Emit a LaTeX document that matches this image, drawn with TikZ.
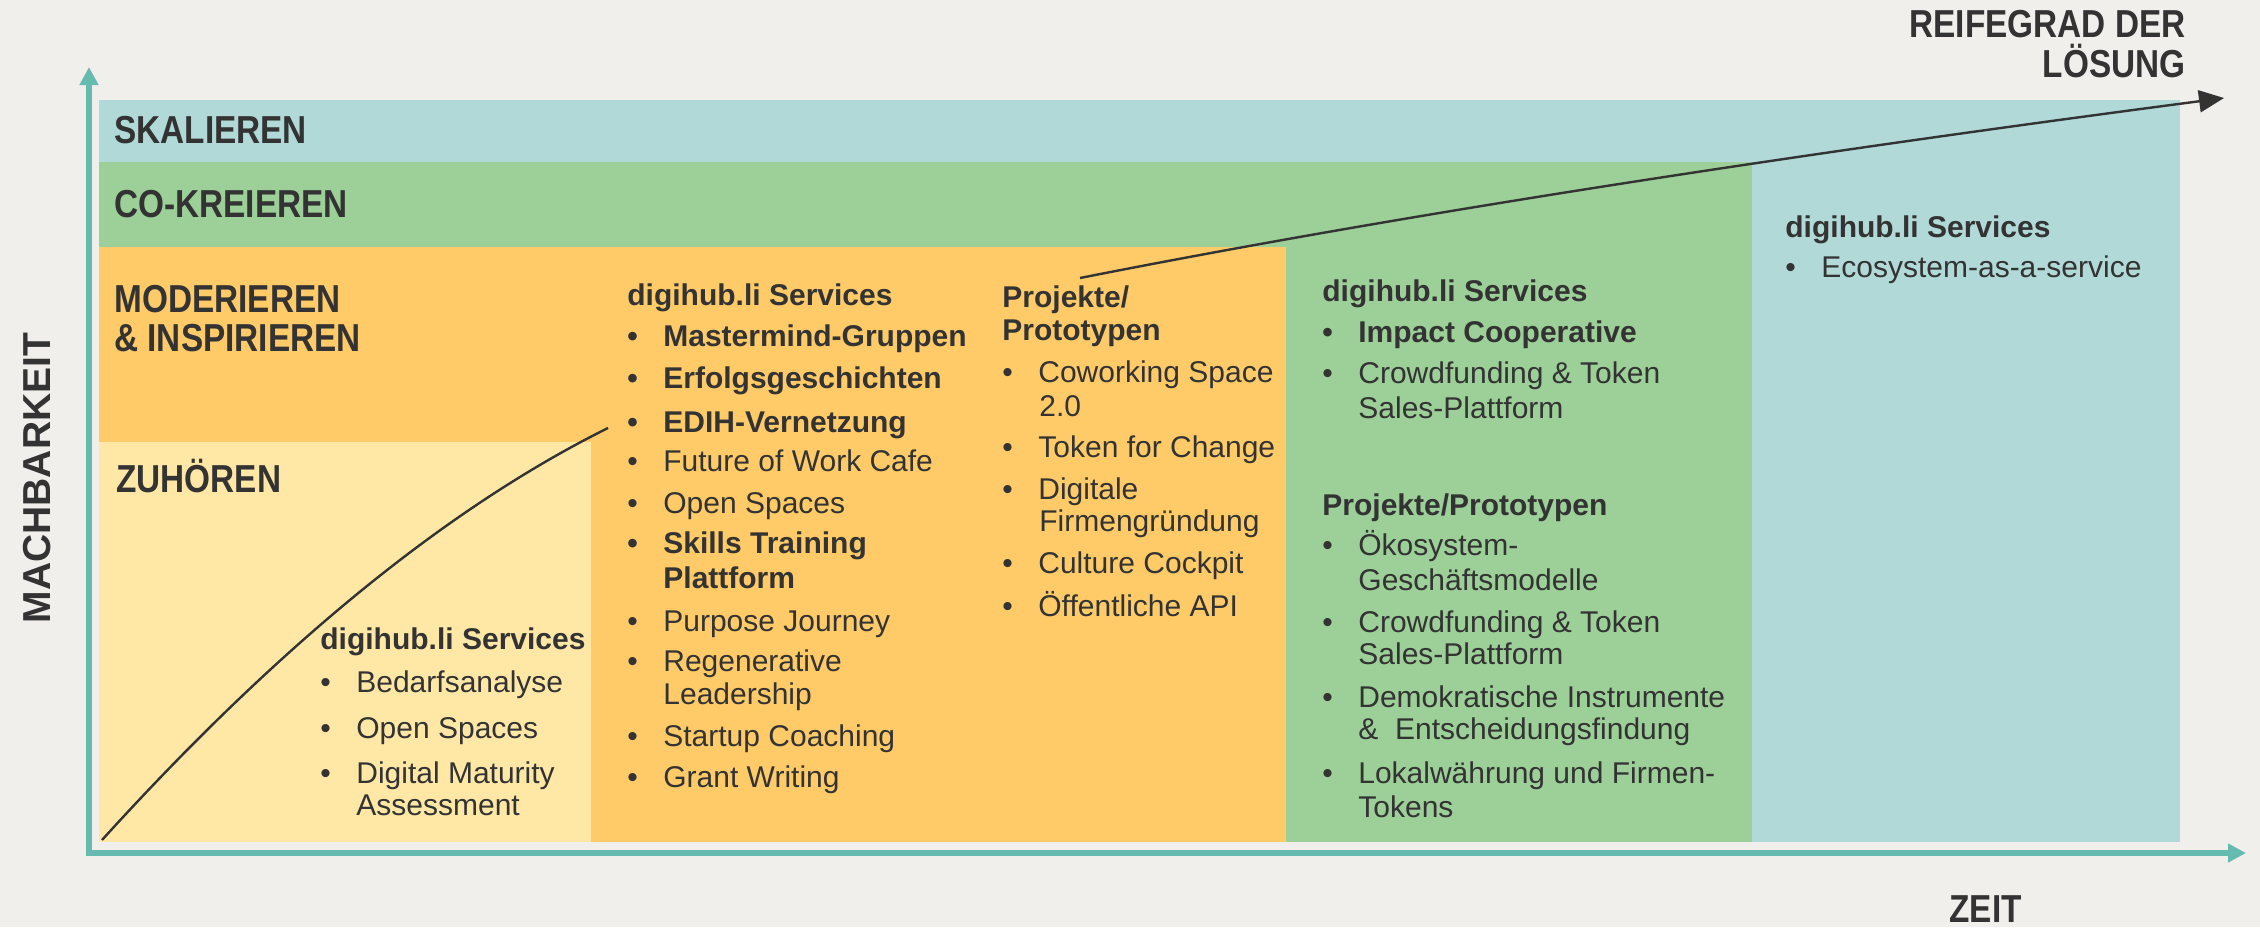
\documentclass[tikz,border=0pt]{standalone}
\usepackage{fontspec}
\setmainfont{Liberation Sans}
\newfontfamily\headfont{Liberation Sans}[FakeStretch=0.855]
\usetikzlibrary{arrows.meta}
\definecolor{bgc}{HTML}{F0EFEB}
\definecolor{bandblue}{HTML}{B0D9D8}
\definecolor{bandgreen}{HTML}{9DCF98}
\definecolor{bandorange}{HTML}{FFCB68}
\definecolor{bandyellow}{HTML}{FFE8A6}
\definecolor{axisteal}{HTML}{66BBB0}
\definecolor{ink}{HTML}{333333}
\newcommand\bul{\makebox[18pt][l]{\textbullet}}
\begin{document}
\begin{tikzpicture}[x=0.5pt,y=-0.5pt,
  hd/.style={font=\headfont\bfseries\fontsize{19.5pt}{23pt}\selectfont, text=ink, inner sep=0pt, anchor=base west},
  wide/.style={font=\bfseries\fontsize{19.5pt}{23pt}\selectfont, text=ink, inner sep=0pt},
  bt/.style={font=\fontsize{15pt}{17pt}\selectfont, text=ink, inner sep=0pt, anchor=base west},
  bb/.style={bt, font=\bfseries\fontsize{15pt}{17pt}\selectfont},
  axisline/.style={draw=axisteal, line width=3pt, line join=miter},
  curveline/.style={draw=ink, line width=1.2pt}]
% background and bounding box
\fill[bgc] (0,0) rectangle (2260,927);
\path[use as bounding box] (0,0) rectangle (2260,927);
% colour regions
\fill[bandblue] (99,100) rectangle (2180,842);
\fill[bandgreen] (99,162) rectangle (1752,842);
\fill[bandorange] (99,247) rectangle (1286,842);
\fill[bandyellow] (99,442) rectangle (591,842);
% axes
\coordinate (ytip) at (89,67);
\coordinate (org) at (89,853);
\coordinate (xtip) at (2246,853);
\draw[axisline, {Triangle[length=9pt,width=9pt]}-{Triangle[length=9pt,width=9pt]}] (ytip) -- (org) -- (xtip);
% curves
\coordinate (c1a) at (102,840);
\coordinate (c1b) at (608,428);
\draw[curveline] (c1a) .. controls (279,645) and (447,508) .. (c1b);
\coordinate (c2a) at (1080,278);
\coordinate (c2b) at (2224,98);
\draw[curveline, -{Triangle[length=12.5pt,width=11pt]}] (c2a) .. controls (1378,219) and (1759,159) .. (c2b);
% axis labels
\node[hd, anchor=base east] (reife1) at (2186,37) {REIFEGRAD DER};
\node[hd, anchor=base east] (reife2) at (2186,77) {LÖSUNG};
\node[hd] (zeit) at (1949,922) {ZEIT};
\node[wide, rotate=90, anchor=base] (mach) at (50,478) {MACHBARKEIT};
% band headings
\node[hd] (skal) at (114,143) {SKALIEREN};
\node[hd] (cokr) at (114,217) {CO-KREIEREN};
\node[hd] (mod1) at (114,312) {MODERIEREN};
\node[hd] (mod2) at (114,351) {\& INSPIRIEREN};
\node[hd] (zuh) at (116,492) {ZUHÖREN};
% yellow column
\node[bb] (yh) at (320,649) {digihub.li Services};
\node[bt] (y1) at (320,692) {\bul Bedarfsanalyse};
\node[bt] (y2) at (320,738) {\bul Open Spaces};
\node[bt] (y3) at (320,783) {\bul Digital Maturity};
\node[bt] (y3b) at (356,815) {Assessment};
% orange column 1
\node[bb] (oh) at (627,305) {digihub.li Services};
\node[bb] (o1) at (627,346) {\bul Mastermind-Gruppen};
\node[bb] (o2) at (627,388) {\bul Erfolgsgeschichten};
\node[bb] (o3) at (627,432) {\bul EDIH-Vernetzung};
\node[bt] (o4) at (627,471) {\bul Future of Work Cafe};
\node[bt] (o5) at (627,513) {\bul Open Spaces};
\node[bb] (o6) at (627,553) {\bul Skills Training};
\node[bb] (o6b) at (663,588) {Plattform};
\node[bt] (o7) at (627,631) {\bul Purpose Journey};
\node[bt] (o8) at (627,671) {\bul Regenerative};
\node[bt] (o8b) at (663,704) {Leadership};
\node[bt] (o9) at (627,746) {\bul Startup Coaching};
\node[bt] (o10) at (627,787) {\bul Grant Writing};
% orange column 2
\node[bb] (ph) at (1002,307) {Projekte/};
\node[bb] (ph2) at (1002,340) {Prototypen};
\node[bt] (p1) at (1002,382) {\bul Coworking Space};
\node[bt] (p1b) at (1039,416) {2.0};
\node[bt] (p2) at (1002,457) {\bul Token for Change};
\node[bt] (p3) at (1002,499) {\bul Digitale};
\node[bt] (p3b) at (1039,531) {Firmengründung};
\node[bt] (p4) at (1002,573) {\bul Culture Cockpit};
\node[bt] (p5) at (1002,616) {\bul Öffentliche API};
% green column
\node[bb] (gh) at (1322,301) {digihub.li Services};
\node[bb] (g1) at (1322,342) {\bul Impact Cooperative};
\node[bt] (g2) at (1322,383) {\bul Crowdfunding \& Token};
\node[bt] (g2b) at (1358,418) {Sales-Plattform};
\node[bb] (gph) at (1322,515) {Projekte/Prototypen};
\node[bt] (g3) at (1322,555) {\bul Ökosystem-};
\node[bt] (g3b) at (1358,590) {Geschäftsmodelle};
\node[bt] (g4) at (1322,632) {\bul Crowdfunding \& Token};
\node[bt] (g4b) at (1358,664) {Sales-Plattform};
\node[bt] (g5) at (1322,707) {\bul Demokratische Instrumente};
\node[bt] (g5b) at (1358,739) {\&\ \ Entscheidungsfindung};
\node[bt] (g6) at (1322,783) {\bul Lokalwährung und Firmen-};
\node[bt] (g6b) at (1358,817) {Tokens};
% blue column
\node[bb] (bh) at (1785,237) {digihub.li Services};
\node[bt] (b1) at (1785,277) {\bul Ecosystem-as-a-service};
\end{tikzpicture}
\end{document}
